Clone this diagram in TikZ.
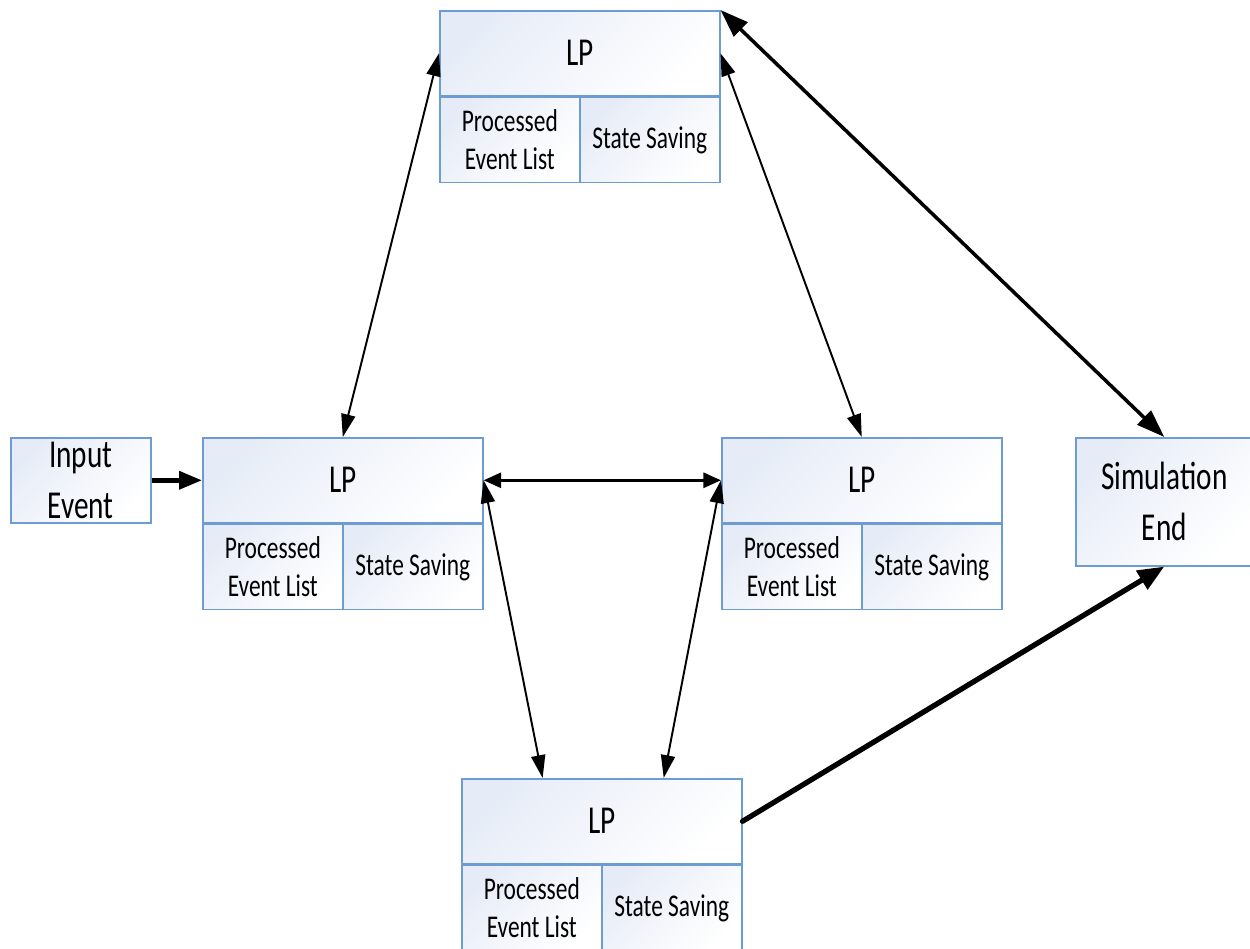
\documentclass[tikz,border=0pt]{standalone}
\usepackage{fontspec}
\setmainfont{Carlito}[FakeStretch=0.74]
\usetikzlibrary{arrows.meta,calc}
\definecolor{cellline}{RGB}{108,156,210}
\definecolor{cellfill}{RGB}{230,236,247}
\tikzset{
  cell/.style={draw=cellline, line width=0.9pt, top color=cellfill, middle color=white,
    bottom color=white, shading angle=45, inner sep=0pt, align=center},
  head/.style={cell, minimum width=5.6cm, minimum height=1.7cm, font=\fontsize{22.5}{26}\selectfont},
  sub/.style={cell, minimum width=2.8cm, minimum height=1.7cm, font=\fontsize{18}{21.7}\selectfont},
  endbox/.style={cell, font=\fontsize{22.5}{29}\selectfont},
  link/.style={line width=1.1pt, {Triangle[length=13pt,width=8pt]}-{Triangle[length=13pt,width=8pt]}},
  midlink/.style={line width=1.7pt, {Triangle[length=10pt,width=8.5pt]}-{Triangle[length=10pt,width=8.5pt]}},
  wide/.style={line width=2pt, {Triangle[length=16pt,width=11pt]}-{Triangle[length=16pt,width=11pt]}},
  feed/.style={line width=2.6pt, -{Triangle[length=13pt,width=10pt]}},
  finish/.style={line width=3pt, line cap=round, -{Triangle[length=15pt,width=12pt]}}
}
% one logical process: header cell with two sub-cells below it
\newcommand\lpgroup[3]{%
  \node[head, anchor=north west] (#1h) at (#2,#3) {LP};
  \node[sub, anchor=north west] (#1a) at (#1h.south west) {Processed\\Event List};
  \node[sub, anchor=north east] (#1b) at (#1h.south east) {State Saving};
}
\begin{document}
\begin{tikzpicture}[x=0.02cm, y=-0.02cm]
  \useasboundingbox (0,0) rectangle (1250,949);

  \lpgroup{top}{439}{10}
  \lpgroup{left}{202}{437}
  \lpgroup{right}{721}{437}
  \lpgroup{bot}{461}{778}

  \node[endbox, anchor=north west, minimum width=2.8cm, minimum height=1.7cm]
    (input) at (10,437) {Input\\Event};
  \node[endbox, anchor=north west, minimum width=3.54cm, minimum height=2.56cm]
    (simend) at (1075,437) {Simulation\\End};

  \coordinate (botL) at ($(both.north west)!0.29!(both.north east)$);
  \coordinate (botR) at ($(both.north west)!0.72!(both.north east)$);

  \draw[feed] (input.east) -- (lefth.west);
  \draw[link] (toph.west) -- (lefth.north);
  \draw[link] (toph.east) -- (righth.north);
  \draw[wide] (toph.north east) -- (simend.north);
  \draw[midlink] (lefth.east) -- (righth.west);
  \draw[link] (lefth.east) -- (botL);
  \draw[link] (righth.west) -- (botR);
  \draw[finish] (both.east) -- (simend.south);
\end{tikzpicture}
\end{document}
